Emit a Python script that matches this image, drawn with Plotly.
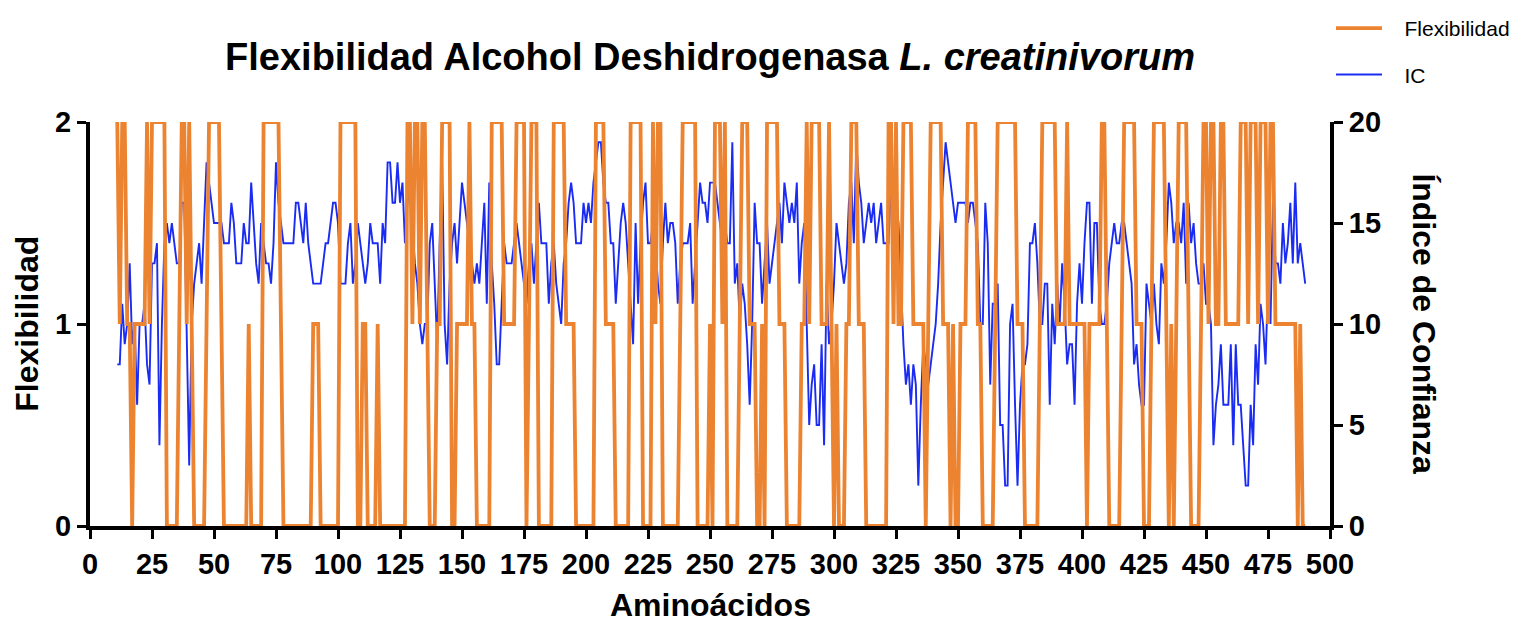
import plotly.graph_objects as go

# Amino acid positions (11..490)
aminoacidos = list(range(11, 491))

# Flexibility (0, 1, 2) per residue, rows of 10 starting at residue 11
flexibilidad = [
    2,1,2,2,1,1,0,1,1,1,  1,1,2,1,2,2,2,2,2,2,  0,0,0,0,0,1,2,2,1,2,  1,0,0,0,0,0,1,2,2,2,
    2,2,1,0,0,0,0,0,0,0,  0,0,0,1,0,0,0,0,0,2,  2,2,2,2,2,2,1,0,0,0,  0,0,0,0,0,0,0,0,0,1,
    1,1,0,0,0,0,0,0,0,0,  2,2,2,2,2,2,2,0,0,1,  1,0,0,0,0,1,0,0,0,0,  0,0,0,0,0,0,0,2,2,1,
    2,2,1,2,2,1,0,0,0,1,  1,2,2,2,2,0,0,1,1,1,  1,1,2,1,1,0,0,0,0,0,  0,2,2,2,2,2,1,1,1,1,
    1,2,2,2,2,0,1,2,2,2,  0,0,0,0,0,0,2,2,2,2,  2,1,1,1,1,0,0,0,0,0,  0,0,0,2,2,2,2,1,1,1,
    1,0,0,0,0,0,0,2,2,2,  2,2,0,0,0,0,2,1,2,2,  0,0,0,0,0,0,0,1,2,2,  2,2,2,2,0,0,0,0,0,1,
    0,2,2,2,1,2,0,0,0,0,  0,1,2,2,2,1,1,1,0,0,  1,0,2,2,2,2,2,1,1,1,  0,0,0,0,0,0,1,1,2,1,
    2,2,2,2,1,1,1,2,1,0,  1,0,0,0,1,1,2,2,2,1,  1,1,0,0,0,0,0,0,0,0,  0,2,2,1,2,1,1,2,2,2,
    2,1,1,1,1,1,0,1,2,2,  2,2,2,1,1,1,0,1,0,0,  1,1,1,2,2,2,2,1,1,0,  0,0,0,0,1,2,2,2,2,2,
    2,2,2,1,1,1,0,0,0,0,  0,0,1,2,2,2,2,2,2,1,  1,1,1,2,1,1,1,1,1,1,  1,0,1,1,1,1,1,2,2,1,
    0,0,0,0,0,1,2,2,2,2,  2,1,1,1,0,0,0,1,2,2,  2,2,2,1,0,1,0,1,2,2,  2,2,1,0,0,0,0,1,2,2,
    1,2,2,1,1,2,2,1,1,1,  1,1,1,2,2,2,1,2,2,2,  1,2,2,2,1,2,2,1,1,1,  1,1,1,1,1,1,0,1,0,0,
]

# Confidence index (IC) per residue, rows of 10 starting at residue 11
indice_confianza = [
    8,8,11,9,10,13,9,10,6,10,      10,11,8,7,13,13,14,4,10,14,    15,14,15,14,13,13,16,16,10,3,
    10,12,13,14,12,15,18,17,16,15, 15,15,15,14,14,14,16,15,13,13, 13,15,14,14,17,15,13,12,15,14,
    13,13,12,14,18,16,15,14,14,14, 14,14,16,16,15,14,16,14,13,12, 12,12,12,13,14,14,15,16,16,15,
    12,12,12,14,15,12,13,15,14,13, 12,13,15,14,14,14,12,15,14,18, 18,16,16,18,16,17,14,16,17,15,
    13,12,10,9,10,10,14,15,12,9,   14,18,10,8,12,14,15,13,15,17,  16,15,14,13,12,13,12,14,16,11,
    17,13,11,8,8,11,14,13,13,13,   14,15,14,13,12,11,13,14,12,14, 16,14,14,14,11,13,14,12,11,10,
    13,14,16,17,16,14,14,14,16,15, 16,15,17,18,19,19,17,16,16,14, 14,11,13,15,16,15,13,11,9,15,
    11,14,16,17,14,14,15,14,12,11, 14,16,14,15,15,14,11,13,14,14, 14,15,11,13,15,17,16,16,15,17,
    17,17,16,15,14,15,14,14,19,12, 13,10,12,11,9,6,10,16,14,14,   11,13,15,12,13,14,15,16,14,17,
    16,15,16,15,17,12,14,15,10,5,  7,8,5,5,9,4,12,9,10,12,        15,14,13,12,13,16,17,14,19,17,
    16,14,15,16,15,16,14,15,16,14, 14,14,17,16,16,15,12,9,7,8,    6,8,7,2,6,9,8,7,8,9,
    10,12,15,17,19,18,17,16,15,16, 16,16,16,15,16,16,15,14,10,10, 16,14,7,11,11,12,5,5,2,2,
    10,11,6,2,6,8,8,9,14,14,       15,13,10,10,12,12,6,11,9,12,   10,13,11,8,9,9,6,11,13,11,
    14,16,16,11,15,15,11,10,10,11, 13,14,15,14,14,15,15,14,13,12, 8,9,7,6,6,12,11,10,12,10,
    9,13,12,14,17,16,14,15,15,14,  16,12,16,14,15,13,12,12,13,11, 11,10,4,6,7,9,6,6,6,9,
    4,9,6,6,4,2,2,6,4,9,           7,11,10,8,12,10,16,13,13,12,   15,13,14,16,13,17,13,14,13,12,
]

x_ticks = list(range(0, 501, 25))
flex_ticks = [0, 1, 2]
ic_ticks = [0, 5, 10, 15, 20]

FONT = "Liberation Sans, Arial, sans-serif"
ORANGE = "#EC8330"
BLUE = "#1B2CF2"

W, H = 1520, 615

fig = go.Figure()
fig.add_trace(go.Scatter(
    x=aminoacidos, y=indice_confianza, name="&nbsp;&nbsp;&nbsp;IC", mode="lines",
    line=dict(color=BLUE, width=1.9), yaxis="y", legendrank=2,
    legendgroup="b", cliponaxis=False,
))
fig.add_trace(go.Scatter(
    x=aminoacidos, y=flexibilidad, name="&nbsp;&nbsp;&nbsp;Flexibilidad", mode="lines",
    line=dict(color=ORANGE, width=3.8), yaxis="y2", legendrank=1,
    legendgroup="a", cliponaxis=False,
))

axis_common = dict(
    showline=True, linecolor="black", linewidth=4, ticks="outside",
    tickcolor="black", tickwidth=3, ticklen=9, showgrid=False, zeroline=False,
    tickfont=dict(family=FONT, size=29, color="black", weight="bold"),
)

fig.update_layout(
    width=W, height=H,
    paper_bgcolor="white", plot_bgcolor="white",
    margin=dict(l=82, r=198, t=114, b=97, autoexpand=False),
    title=dict(
        text="<b>Flexibilidad Alcohol Deshidrogenasa <i>L. creatinivorum</i></b>",
        font=dict(family=FONT, size=38, color="black"),
        x=0.5, xref="paper", xanchor="center",
        y=1 - 49 / H, yref="container", yanchor="middle",
    ),
    xaxis=dict(range=[0, 500], tickvals=x_ticks, **axis_common),
    yaxis=dict(range=[0, 20], tickvals=ic_ticks, side="right", anchor="x", **axis_common),
    yaxis2=dict(range=[0, 2], tickvals=flex_ticks, side="left", overlaying="y",
                anchor="x", **axis_common),
    showlegend=True,
    legend=dict(
        xref="container", yref="container",
        x=1323 / W, xanchor="left", y=1 + 7 / H, yanchor="top", traceorder="grouped",
        tracegroupgap=16, font=dict(family=FONT, size=21, color="black"),
        bgcolor="rgba(0,0,0,0)", itemwidth=46,
    ),
    annotations=[
        dict(text="<b>Flexibilidad</b>", xref="paper", yref="paper", x=-0.051, y=0.5,
             textangle=-90, showarrow=False, xanchor="center", yanchor="middle",
             font=dict(family=FONT, size=32, color="black")),
        dict(text="<b>Índice de Confianza</b>", xref="paper", yref="paper", x=1.0755, y=0.5,
             textangle=90, showarrow=False, xanchor="center", yanchor="middle",
             font=dict(family=FONT, size=32, color="black")),
        dict(text="<b>Aminoácidos</b>", xref="paper", yref="paper", x=0.5, y=-0.196,
             showarrow=False, xanchor="center", yanchor="middle",
             font=dict(family=FONT, size=32, color="black")),
    ],
)

fig.write_html("out.html")
